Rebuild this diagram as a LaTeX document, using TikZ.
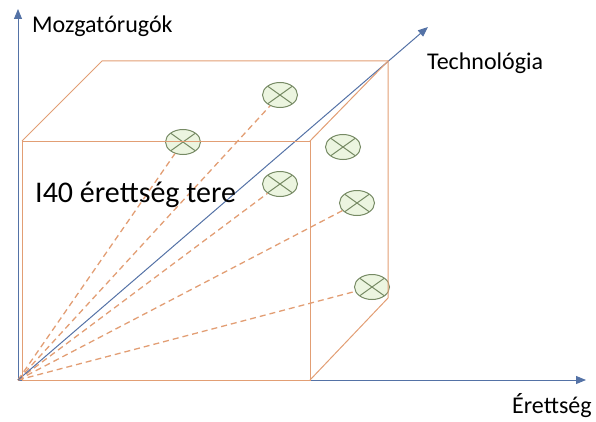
\documentclass[tikz,border=0pt]{standalone}
\usepackage{fontspec}
\setmainfont{Carlito}
\usetikzlibrary{arrows.meta,shapes.geometric}
\definecolor{axisblue}{RGB}{84,114,166}
\definecolor{boxorange}{RGB}{226,158,116}
\definecolor{markgreen}{RGB}{118,138,100}
\definecolor{markfill}{RGB}{236,245,224}
\tikzset{
	axisline/.style={line width=1pt, color=axisblue, -{Triangle[length=10pt,width=8pt]}},
	boxline/.style={line width=1pt, color=boxorange},
	ray/.style={line width=1.3pt, color=boxorange, dash pattern=on 6pt off 4pt},
	marker/.style={ellipse, draw=markgreen, fill=markfill, line width=1pt,
		minimum width=35pt, minimum height=25pt, inner sep=0pt,
		path picture={\draw[markgreen, line width=1pt]
			(path picture bounding box.north west) -- (path picture bounding box.south east)
			(path picture bounding box.north east) -- (path picture bounding box.south west);}},
	axistext/.style={anchor=base west, inner sep=0pt, font=\fontsize{24}{28}\selectfont},
}

\begin{document}
\begin{tikzpicture}[x=1pt, y=1pt]
		%%%%% START %%%%%
		\useasboundingbox (-18, -41) rectangle (578, 380);
		
		\coordinate (O) at (0, 0);
		\coordinate (up) at (0, 371);
		\coordinate (right) at (568, 0);
		\coordinate (tech) at (410, 353);
		
		% front face and the visible back edges
		\coordinate (fbl) at (4, 0);
		\coordinate (fbr) at (292, 0);
		\coordinate (ftr) at (292, 239);
		\coordinate (ftl) at (4, 239);
		\coordinate (btl) at (84, 319);
		\coordinate (btr) at (370, 319);
		\coordinate (bbr) at (370, 82);
		
		\draw[axisline] (O) -- (up);
		\draw[axisline] (O) -- (right);
		
		\node[marker] (m1) at (262, 285) {};
		\node[marker] (m2) at (165, 238) {};
		\node[marker] (m3) at (262, 196) {};
		\node[marker] (m4) at (325, 233) {};
		\node[marker] (m5) at (339, 177) {};
		\node[marker] (m6) at (354, 93) {};
		
		\foreach \m in {m1, m2, m3, m5, m6}
			\draw[ray] (O) -- (\m);
		
		\draw[axisline] (O) -- (tech);
		
		\draw[boxline] (fbl) rectangle (ftr);
		\draw[boxline] (ftl) -- (btl) -- (btr) -- (bbr) -- (fbr);
		\draw[boxline] (ftr) -- (btr);
		
		\node[axistext] (lup) at (14, 347) {Mozgatórugók};
		\node[axistext] (ltech) at (409, 310) {Technológia};
		\node[axistext] (lright) at (494, -33) {Érettség};
		\node[anchor=base west, inner sep=0pt, font=\fontsize{30}{34}\selectfont] (lspace) at (17, 178) {I40 érettség tere};
		
		%%%%% END %%%%%
	\end{tikzpicture}
\end{document}
